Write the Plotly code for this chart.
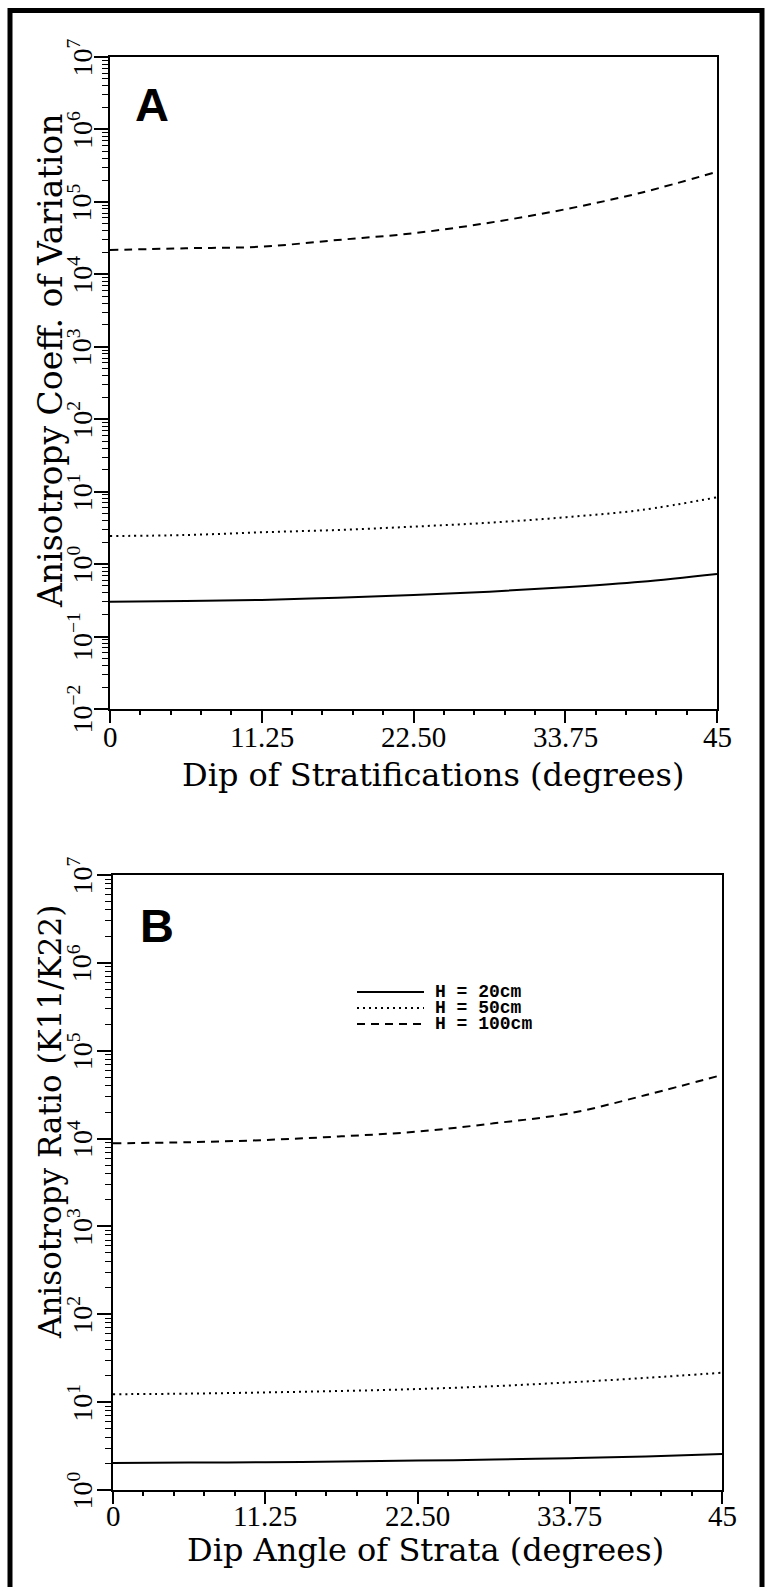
import plotly.graph_objects as go

# ---------------- data ----------------
dip = [0, 5.625, 11.25, 16.875, 22.5, 28.125, 33.75, 39.375, 45]

a_h20 = [0.303, 0.310, 0.320, 0.344, 0.375, 0.416, 0.479, 0.571, 0.731]
a_h50 = [2.44, 2.52, 2.75, 2.96, 3.29, 3.73, 4.43, 5.58, 8.36]
a_h100 = [2.17e4, 2.29e4, 2.41e4, 2.98e4, 3.69e4, 5.16e4, 7.91e4, 1.34e5, 2.61e5]

b_h20 = [2.03, 2.05, 2.07, 2.11, 2.16, 2.22, 2.30, 2.41, 2.57]
b_h50 = [12.3, 12.5, 12.9, 13.4, 14.1, 15.2, 16.8, 18.9, 21.6]
b_h100 = [8830, 9100, 9630, 10600, 12000, 14900, 19400, 31300, 53000]

series_names = ["H = 20cm", "H = 50cm", "H = 100cm"]
x_tickvals = [0, 11.25, 22.5, 33.75, 45]
x_ticktext = ["0", "11.25", "22.50", "33.75", "45"]
a_exponents = [-2, -1, 0, 1, 2, 3, 4, 5, 6, 7]
b_exponents = [0, 1, 2, 3, 4, 5, 6, 7]

W, H = 770, 1587
def px(x):
    return x / W
def py(y):
    return 1 - y / H

def pow_label(e):
    s = str(e).replace("-", "\u2212")
    return "10<sup>" + s + "</sup>"

dashes = ["solid", "2px,4px", "8px,6px"]

fig = go.Figure()
for ys, d, nm in zip([a_h20, a_h50, a_h100], dashes, series_names):
    fig.add_trace(go.Scatter(x=dip, y=ys, mode="lines", name=nm, showlegend=False,
                             line=dict(color="black", width=2, dash=d, shape="spline"),
                             xaxis="x", yaxis="y"))
for ys, d, nm in zip([b_h20, b_h50, b_h100], dashes, series_names):
    fig.add_trace(go.Scatter(x=dip, y=ys, mode="lines", name=nm, showlegend=False,
                             line=dict(color="black", width=2, dash=d, shape="spline"),
                             xaxis="x2", yaxis="y2"))

tickfont_x = dict(family="Liberation Serif", size=29, color="black")
tickfont_y = dict(family="Liberation Serif", size=28, color="black")
title_family = "DejaVu Serif"

def xaxis(domain, anchor):
    return dict(domain=domain, anchor=anchor, range=[0, 45], tickmode="array",
                tickvals=x_tickvals, ticktext=x_ticktext, showticklabels=False,
                ticks="outside", ticklen=12,
                tickwidth=1.5, tickcolor="black", showline=True, linecolor="black",
                linewidth=2, mirror=True, showgrid=False, zeroline=False,
                automargin=False,
                minor=dict(ticks="outside", ticklen=4, tickwidth=1.5, tickcolor="black",
                           tickmode="linear", dtick=2.25, tick0=0, showgrid=False))

def yaxis(domain, anchor, exps):
    return dict(domain=domain, anchor=anchor, type="log",
                range=[exps[0], exps[-1]], tickmode="array",
                tickvals=[10.0 ** e for e in exps], showticklabels=False,
                ticks="outside", ticklen=14,
                tickwidth=1.5, tickcolor="black", showline=True, linecolor="black",
                linewidth=2, mirror=True, showgrid=False, zeroline=False,
                automargin=False,
                minor=dict(ticks="outside", ticklen=6, tickwidth=1, tickcolor="black",
                           tickmode="linear", dtick="D1", showgrid=False))

fig.update_layout(
    width=W, height=H, margin=dict(l=0, r=0, t=0, b=0, autoexpand=False),
    paper_bgcolor="white", plot_bgcolor="white", showlegend=False,
    font=dict(family="Liberation Serif", color="black"),
    xaxis=xaxis([px(110), px(717)], "y"),
    yaxis=yaxis([py(709), py(57)], "x", a_exponents),
    xaxis2=xaxis([px(113), px(722)], "y2"),
    yaxis2=yaxis([py(1490), py(875)], "x2", b_exponents),
)

annotations = [
    dict(text="Anisotropy Coeff. of Variation", x=px(50), y=py(361), textangle=-90,
         font=dict(family=title_family, size=33, color="black")),
    dict(text="Anisotropy Ratio (K11/K22)", x=px(50), y=py(1122), textangle=-90,
         font=dict(family=title_family, size=31, color="black")),
    dict(text="Dip of Stratifications (degrees)", x=px(433), y=py(775),
         font=dict(family=title_family, size=32, color="black")),
    dict(text="Dip Angle of Strata (degrees)", x=px(426), y=py(1550),
         font=dict(family=title_family, size=32, color="black")),
    dict(text="A", x=px(152), y=py(105),
         font=dict(family="Liberation Sans", size=47, color="black", weight="bold")),
    dict(text="B", x=px(157), y=py(925),
         font=dict(family="Liberation Sans", size=47, color="black", weight="bold")),
]
# x tick labels placed on the data scale of each x axis
for xref, ylab in (("x", 737), ("x2", 1516)):
    for v, t in zip(x_tickvals, x_ticktext):
        annotations.append(dict(text=t, x=v, xref=xref, y=py(ylab), font=tickfont_x))
# rotated y tick labels placed on the (log) data scale of each y axis
for yref, exps in (("y", a_exponents), ("y2", b_exponents)):
    for e in exps:
        annotations.append(dict(text=pow_label(e), x=px(100), xanchor="right", y=e,
                                yref=yref, textangle=-90, font=tickfont_y))

legend_rows = [992, 1008, 1024]
shapes = [dict(type="rect", xref="paper", yref="paper", x0=px(10), x1=px(762),
               y0=-0.02, y1=py(10.5), line=dict(color="black", width=5))]
for yy, d, nm in zip(legend_rows, dashes, series_names):
    shapes.append(dict(type="line", xref="paper", yref="paper", x0=px(357), x1=px(424),
                       y0=py(yy), y1=py(yy), line=dict(color="black", width=2, dash=d)))
    annotations.append(dict(text=nm, x=px(433), y=py(yy), xanchor="left", yanchor="middle",
                            font=dict(family="Liberation Mono", size=18, color="black",
                                      weight="bold")))
for a in annotations:
    a.setdefault("xref", "paper")
    a.setdefault("yref", "paper")
    a.setdefault("showarrow", False)
    a.setdefault("xanchor", "center")
    a.setdefault("yanchor", "middle")
fig.update_layout(annotations=annotations, shapes=shapes)

fig.write_html("out.html")
